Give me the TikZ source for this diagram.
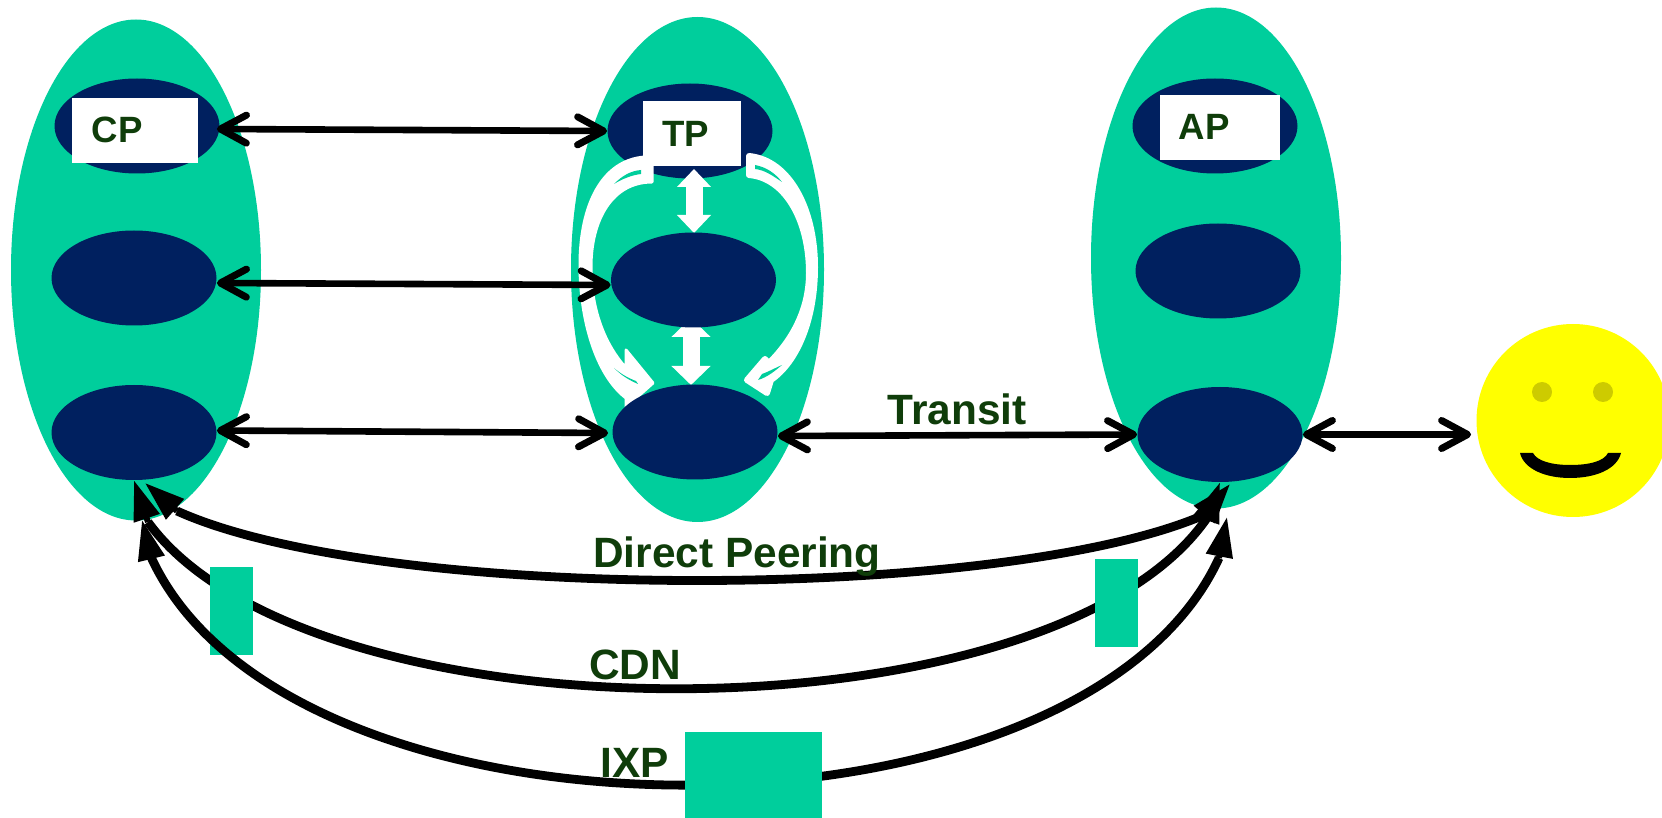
\documentclass[tikz,border=0pt]{standalone}
\usepackage{fontspec}
\setmainfont{Liberation Sans}
\usetikzlibrary{shapes.geometric,arrows.meta,bending}
\definecolor{teal1}{HTML}{00CE9C}
\definecolor{navy1}{HTML}{00205F}
\definecolor{green1}{HTML}{0F3D0A}
\definecolor{eye1}{HTML}{CDCB00}
\definecolor{sun1}{HTML}{FFFF00}
\tikzset{
  as/.style={ellipse,fill=teal1,inner sep=0pt,minimum width=250*0.5pt,minimum height=501*0.5pt},
  tier/.style={ellipse,fill=navy1,inner sep=0pt,minimum width=165*0.5pt,minimum height=95*0.5pt},
  whitebox/.style={fill=white,inner sep=0pt},
  tealbox/.style={fill=teal1,inner sep=0pt},
  lbl/.style={text=green1,font=\bfseries\fontsize{21.2}{21.2}\selectfont,inner sep=0pt},
  lblsmall/.style={text=green1,font=\bfseries\fontsize{18.3}{18.3}\selectfont,inner sep=0pt},
  link/.style={black,line width=3.3pt,{Straight Barb[length=13pt,width=14pt,line width=3.5pt,round]}-{Straight Barb[length=13pt,width=14pt,line width=3.5pt,round]}},
  peer/.style={black,line width=4.4pt},
  peerhead/.style={black,line width=3pt,-{Triangle[length=20pt,width=13pt]}},
  vert/.style={white,line width=8.5pt,{Triangle[length=9pt,width=16.5pt]}-{Triangle[length=9pt,width=16.5pt]}},
  vertb/.style={white,line width=8.5pt,{Triangle[length=9.5pt,width=19pt]}-{Triangle[length=9.5pt,width=19pt]}},
  curvew/.style={fill=white,draw=white,line width=1.5pt,line join=round},
  hole/.style={fill=teal1},
}
\begin{document}
\begin{tikzpicture}[x=0.5pt,y=-0.5pt]
\useasboundingbox (0,0) rectangle (1662,818);
% large ellipses
\node[as] (cpas) at (136,270) {};
\node[as,minimum width=253*0.5pt,minimum height=505*0.5pt] (tpas) at (697.5,269.5) {};
\node[as] (apas) at (1216,258) {};
% user
\begin{scope}
\clip (0,0) rectangle (1662,818);
\node[circle,fill=sun1,inner sep=0pt,minimum size=193*0.5pt] (user) at (1573,420.5) {};
\end{scope}
\node[circle,fill=eye1,inner sep=0pt,minimum size=20*0.5pt] (eyea) at (1542,392) {};
\node[circle,fill=eye1,inner sep=0pt,minimum size=20*0.5pt] (eyeb) at (1603,392) {};
\fill[black] (1520,453) -- (1533,453) .. controls (1537,461) and (1552,465) .. (1570,465)
  .. controls (1590,465) and (1604,461) .. (1608,453) -- (1621,453)
  .. controls (1617,469) and (1596,478) .. (1570,478)
  .. controls (1545,478) and (1524,469) .. (1520,453) -- cycle;
% top tiers
\node[tier] (cp1) at (137,126) {};
\node[tier] (tp1) at (690,131) {};
\node[tier] (ap1) at (1215,126) {};
% white curved arrows
\fill[curvew] (652,157) -- (645,157) .. controls (602,160) and (580,205) .. (580,265)
  .. controls (580,320) and (596,375) .. (626,398) -- (626,407) -- (653,383) -- (626,350) -- (626,368)
  .. controls (605,345) and (591,310) .. (591,267) .. controls (591,220) and (612,182) .. (652,182) -- cycle;
\fill[hole] (614,184) .. controls (622,176) and (630,171) .. (641,170) -- (641,174) .. controls (632,175) and (622,179) .. (614,184) -- cycle;
\fill[hole] (614,368) .. controls (622,376) and (629,380) .. (638,384) -- (636,381) .. controls (628,378) and (621,374) .. (614,368) -- cycle;
\fill[curvew,line width=3pt] (749,156) .. controls (790,160) and (815,210) .. (815,267)
  .. controls (815,320) and (797,362) .. (771,380) -- (767,393) -- (747,380) -- (765,359) -- (769,363)
  .. controls (792,340) and (809,310) .. (809,273) .. controls (809,220) and (785,178) .. (749,175) -- cycle;
\fill[hole] (755,165) .. controls (766,167) and (775,173) .. (782,182) .. controls (773,176) and (765,170) .. (755,169) -- cycle;
\fill[hole] (758,380) .. controls (768,377) and (776,370) .. (782,365) .. controls (775,368) and (768,372) .. (762,374) -- cycle;
% vertical white arrows
\coordinate (va) at (694,169);
\coordinate (vb) at (694,233);
\coordinate (vc) at (691,318);
\coordinate (vd) at (691,385);
\draw[vert] (va) -- (vb);
\draw[vertb] (vc) -- (vd);
% remaining tiers
\node[tier] (cp2) at (134,278) {};
\node[tier] (cp3) at (134,432.5) {};
\node[tier] (tp2) at (693.5,280) {};
\node[tier] (tp3) at (695,432) {};
\node[tier] (ap2) at (1218,271) {};
\node[tier] (ap3) at (1220,434.5) {};
% white boxes
\node[whitebox,minimum width=126*0.5pt,minimum height=65*0.5pt] (cpbox) at (135,130.5) {};
\node[whitebox,minimum width=98*0.5pt,minimum height=65*0.5pt] (tpbox) at (692,133.5) {};
\node[whitebox,minimum width=120*0.5pt,minimum height=65*0.5pt] (apbox) at (1220,127.5) {};
% straight links
\draw[link] ([xshift=-1.5pt,yshift=-1.5pt]cp1.east) -- (tp1.west);
\draw[link] ([yshift=-2.5pt]cp2.east) -- ([yshift=-2.5pt]tp2.west);
\draw[link] ([yshift=1pt]cp3.east) -- ([xshift=-2pt,yshift=-0.5pt]tp3.west);
\draw[link] ([yshift=-2pt]tp3.east) -- (ap3.west);
\draw[link] (ap3.east) -- ([xshift=-2.5pt]user.west |- ap3.east);
% peering curves
\coordinate (dptl) at (145,483);
\coordinate (dpbl) at (177,511);
\coordinate (dptr) at (1230,484);
\coordinate (dpbr) at (1204,515);
\coordinate (cdbl) at (148,522);
\coordinate (cdbr) at (1207,518);
\coordinate (ixtl) at (142,520);
\coordinate (ixbl) at (151,557);
\coordinate (ixtr) at (1227,517);
\coordinate (ixbr) at (1219,558);
\draw[peer] (dpbl) .. controls (380,603) and (1000,603) .. (dpbr);
\draw[peerhead] (dpbl) -- (dptl);
\draw[peerhead] (dpbr) -- (dptr);
\draw[peer] (cdbl) .. controls (310,745) and (1050,745) .. (cdbr);
\draw[peerhead] (cdbl) -- (cp3.south);
\draw[peerhead] (cdbr) -- (ap3.south);
% small relay boxes
\node[tealbox,minimum width=43*0.5pt,minimum height=88*0.5pt] (rl) at (231.5,611) {};
\node[tealbox,minimum width=43*0.5pt,minimum height=88*0.5pt] (rr) at (1116.5,603) {};
\draw[peer] (ixbl) .. controls (290,861) and (1080,861) .. (ixbr);
\draw[peerhead] (ixbl) -- (ixtl);
\draw[peerhead] (ixbr) -- (ixtr);
\node[tealbox,minimum width=137*0.5pt,minimum height=86*0.5pt] (ixp) at (753.5,775) {};
% labels
\node[lblsmall] (tcp) at (117,130) {CP};
\node[lblsmall] (ttp) at (686,134) {TP};
\node[lblsmall] (tap) at (1204,127) {AP};
\node[lbl] (ttr) at (957,409) {Transit};
\node[lbl] (tdp) at (737,557) {Direct Peering};
\node[lbl] (tcd) at (635,665) {CDN};
\node[lbl] (tix) at (635,763) {IXP};
\end{tikzpicture}
\end{document}
